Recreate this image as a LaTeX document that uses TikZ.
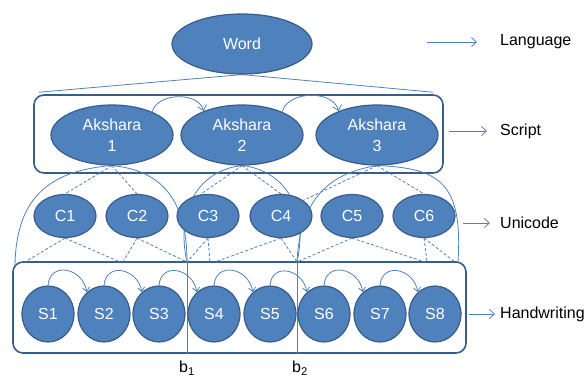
\documentclass[tikz,border=0pt]{standalone}
\usepackage{fontspec}
\setmainfont{Liberation Sans}
\usetikzlibrary{arrows.meta,positioning,calc,backgrounds,shapes.geometric}
\definecolor{fillb}{RGB}{79,129,189}
\definecolor{edgeb}{RGB}{56,93,138}
\definecolor{lineb}{RGB}{79,129,189}
\tikzset{
  akn/.style={ellipse,draw=edgeb,fill=fillb,line width=1.2pt,text=white,
    font=\fontsize{16}{21}\selectfont,align=center,inner sep=0pt,
    minimum width=122pt,minimum height=60pt},
  wrd/.style={akn,minimum width=140pt},
  uni/.style={akn,minimum width=62pt,minimum height=43pt},
  stk/.style={akn,minimum width=52pt,minimum height=56pt},
  lvl/.style={draw=edgeb,line width=1.6pt,rounded corners=10pt,inner sep=0pt},
  lbl/.style={font=\fontsize{16}{19}\selectfont,anchor=west,inner sep=0pt},
  arr/.style={-{Straight Barb[length=5pt,width=9pt]},lineb,line width=0.8pt},
  sarr/.style={-{Straight Barb[length=4pt,width=7pt]},lineb,line width=0.8pt},
  sol/.style={lineb,line width=0.8pt},
  dsh/.style={lineb,line width=0.8pt,dash pattern=on 3pt off 2pt},
}

\begin{document}
\begin{tikzpicture}[x=1pt,y=1pt]
\useasboundingbox (0,0) rectangle (587,378);
% language, script, unicode, handwriting levels
\node[wrd] (word) at (242,334) {Word};
\node[akn] (a1) at (112,243) {Akshara\\1};
\node[akn] (a2) at (242,243) {Akshara\\2};
\node[akn] (a3) at (377,243) {Akshara\\3};
\foreach \i/\x in {1/65,2/137,3/208,4/281,5/352,6/424}
  \node[uni] (c\i) at (\x,162) {C\i};
\foreach \i/\x in {1/48,2/104,3/159,4/214,5/270,6/324,7/380,8/435}
  \node[stk] (s\i) at (\x,64) {S\i};
% side labels
\node[lbl] (llang) at (500,336) {Language};
\node[lbl] (lscr) at (500,247) {Script};
\node[lbl] (luni) at (500,155) {Unicode};
\node[lbl] (lhw) at (500,64) {Handwriting};
\node[font=\fontsize{16}{19}\selectfont] (tb1) at (187,10) {b\textsubscript{1}};
\node[font=\fontsize{16}{19}\selectfont] (tb2) at (300,10) {b\textsubscript{2}};
\begin{scope}[on background layer]
% boxes
\node[lvl,minimum width=409pt,minimum height=78pt] (sbox) at (238.5,244) {};
\node[lvl,minimum width=453pt,minimum height=91pt] (hbox) at (239.5,70.5) {};
% boundaries on the handwriting box
\coordinate (b1) at (187,116);
\coordinate (b2) at (297,116);
\coordinate (lt) at (15,110);
\coordinate (rt) at (458,116);
\foreach \n/\x in {h1/25,h2/120,h3/123,h4/210,h5/215,h6/425,h7/427,h8/455}
  \coordinate (\n) at (\x,116);
\draw[sol] (word.south) -- ($(sbox.north west)+(6,2)$);
\draw[sol] (word.south) -- ($(sbox.north east)+(-11,2)$);
\draw[sol] (b1) -- (b1 |- hbox.south);
\draw[sol] (b2) -- (b2 |- hbox.south);
% akshara spans
\draw[sol] (a1.south) .. controls (55,208) and (15,185) .. (lt);
\draw[sol] (a1.south) .. controls (160,208) and (187,180) .. (b1);
\draw[sol] (a2.south) .. controls (200,208) and (175,170) .. (b1);
\draw[sol] (a2.south) .. controls (284,208) and (309,170) .. (b2);
\draw[sol] (a3.south) .. controls (330,205) and (300,180) .. (b2);
\draw[sol] (a3.south) .. controls (440,210) and (463,195) .. (rt);
% akshara to unicode
\draw[dsh] (a1.south) -- (c1.north);
\draw[dsh] (a1.south) -- (c2.north);
\draw[dsh] (a2.south) -- (c3.110);
\draw[dsh] (a2.south) -- (c4.north);
\draw[dsh] (a3.south) -- (c4.35);
\draw[dsh] (a3.south) -- (c6.north);
% unicode to strokes
\draw[dsh] (c1.south) -- (h1);
\draw[dsh] (c1.south) -- (h2);
\draw[dsh] (c2.south) -- (h3);
\draw[dsh] (c2.south) -- (b1);
\draw[dsh] (c3.south) -- (b1);
\draw[dsh] (c3.south) -- (h4);
\draw[dsh] (c4.south) -- (h5);
\draw[dsh] (c4.south) -- (b2);
\draw[dsh] (c5.south) -- (b2);
\draw[dsh] (c5.south) -- (h6);
\draw[dsh] (c6.south) -- (h7);
\draw[dsh] (c6.south) -- (h8);
\end{scope}
% order arrows
\draw[arr] (a1.30) to[out=75,in=105,looseness=1] (a2.148);
\draw[arr] (a2.30) to[out=75,in=105,looseness=1] (a3.148);
\foreach \i [count=\j from 2] in {1,...,7}
  \draw[sarr] (s\i.north) to[out=85,in=100,looseness=1.6] (s\j.128);
% level arrows
\draw[arr] ($(llang.west)+(-73,0)$) -- ($(llang.west)+(-23,0)$);
\draw[arr] ($(sbox.east |- lscr.west)+(5,0)$) -- ($(lscr.west)+(-13,0)$);
\draw[arr] ($(luni.west)+(-37,0)$) -- ($(luni.west)+(-10,0)$);
\draw[arr] ($(hbox.east |- lhw.west)+(2,0)$) -- ($(lhw.west)+(-5,0)$);
\end{tikzpicture}
\end{document}
